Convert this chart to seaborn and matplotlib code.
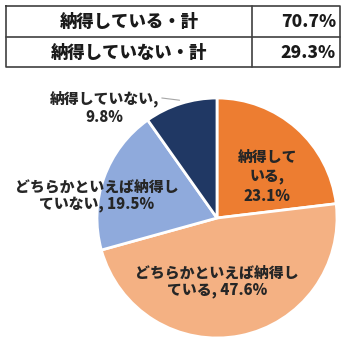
import matplotlib
matplotlib.use("Agg")
import matplotlib.pyplot as plt
import numpy as np
import seaborn as sns

sns.set_theme(style="white")
plt.rcParams['font.family'] = ['Noto Sans CJK JP', 'DejaVu Sans']

# Summary rows
summary_labels = ["納得している・計", "納得していない・計"]
summary_values = [70.7, 29.3]

# Pie slices (clockwise from 12 o'clock)
categories = ["納得して\nいる,", "どちらかといえば納得し\nている,", "どちらかといえば納得し\nていない,", "納得していない,"]
shares = [23.1, 47.6, 19.5, 9.8]
colors = ["#ED7D31", "#F4B183", "#8FAADC", "#203864"]

W, H = 350, 348
fig = plt.figure(figsize=(W / 100, H / 100), dpi=100)
fig.patch.set_facecolor("white")

# ---- summary table drawn in pixel-based figure coordinates ----
tab = fig.add_axes([0, 0, 1, 1])
tab.set_xlim(0, W)
tab.set_ylim(H, 0)
tab.axis("off")
x0, x1, xd = 6, 340, 252
y0, y1, yd = 6, 67, 37
lw = 1.2
tab.plot([x0, x1, x1, x0, x0], [y0, y0, y1, y1, y0], color="#404040", lw=lw)
tab.plot([x0, x1], [yd, yd], color="#404040", lw=lw)
tab.plot([xd, xd], [y0, y1], color="#404040", lw=lw)
row_centers = [(y0 + yd) / 2 + 0.5, (yd + y1) / 2 + 0.5]
for lab, val, yc in zip(summary_labels, summary_values, row_centers):
    tab.text((x0 + xd) / 2, yc, lab, ha="center", va="center",
             fontsize=12.5, fontweight="black", color="#1a1a1a")
    tab.text(x1 - 4, yc, f"{val:.1f}%", ha="right", va="center",
             fontsize=12.5, fontweight="black", color="#1a1a1a")

# ---- pie ----
cx, cy, r = 217, 218, 120
ax = fig.add_axes([(cx - r) / W, 1 - (cy + r) / H, 2 * r / W, 2 * r / H])
wedges, _ = ax.pie(shares, colors=colors, startangle=90, counterclock=False,
                   radius=1, wedgeprops=dict(edgecolor="white", linewidth=2))
ax.set_xlim(-1, 1)
ax.set_ylim(-1, 1)
ax.set_aspect("equal")
ax.axis("off")

label_pos = [(0.42, 0.34), (0.0, -0.53), (-1.0, 0.18), (-0.94, 0.92)]
for cat, val, (lx, ly), i in zip(categories, shares, label_pos, range(4)):
    if i == 0:
        txt = f"{cat}\n{val:.1f}%"
        ls = 1.35
    elif i == 3:
        txt = f"{cat}\n{val:.1f}%"
        ls = 1.3
    else:
        txt = f"{cat} {val:.1f}%"
        ls = 1.15
    ax.text(lx, ly, txt, ha="center", va="center", fontsize=10.7,
            fontweight="black", color="#262626", linespacing=ls, clip_on=False)

# leader line for the smallest slice
w = wedges[3]
mid = np.deg2rad((w.theta1 + w.theta2) / 2)
ex, ey = np.cos(mid) * 1.03, np.sin(mid) * 1.03
ax.plot([-0.46, ex], [1.0, ey], color="#a6a6a6", lw=0.8, clip_on=False)

fig.savefig("out.png", dpi=100, facecolor="white")
